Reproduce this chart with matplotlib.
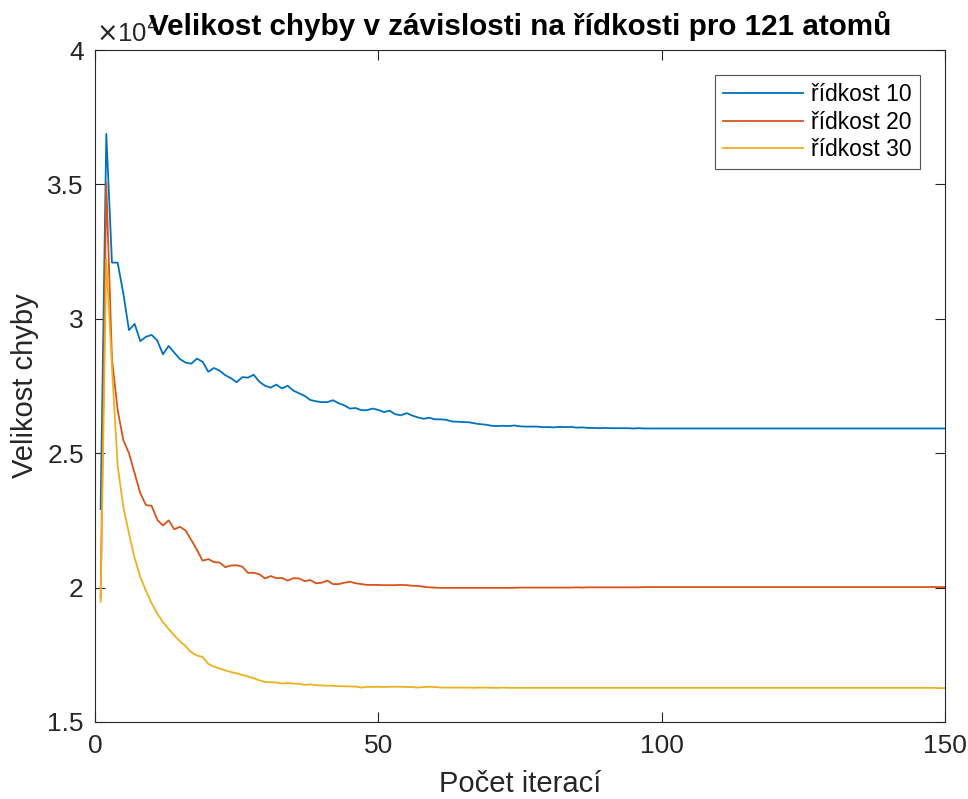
import numpy as np
import matplotlib
matplotlib.use('Agg')
import matplotlib.pyplot as plt
from matplotlib.ticker import FuncFormatter

plt.rcParams['font.family'] = ['Liberation Sans', 'DejaVu Sans']

SCALE = 1e4

# error values in units of 1e4, iteration 1..150
ridkost_10 = [
    2.292, 3.688, 3.209, 3.209, 3.095, 2.958, 2.981, 2.917, 2.933, 2.940,
    2.919, 2.868, 2.899, 2.874, 2.850, 2.837, 2.833, 2.852, 2.840, 2.803,
    2.817, 2.807, 2.790, 2.779, 2.764, 2.783, 2.781, 2.792, 2.766, 2.751,
    2.744, 2.755, 2.741, 2.751, 2.733, 2.723, 2.713, 2.698, 2.693, 2.690,
    2.690, 2.697, 2.686, 2.678, 2.666, 2.668, 2.660, 2.660, 2.666, 2.661,
    2.653, 2.658, 2.645, 2.641, 2.649, 2.640, 2.633, 2.628, 2.632, 2.626,
    2.626, 2.624, 2.618, 2.617, 2.616, 2.615, 2.611, 2.608, 2.606, 2.602,
    2.601, 2.602, 2.601, 2.603, 2.600, 2.599, 2.599, 2.599, 2.597, 2.597,
    2.596, 2.598, 2.597, 2.598, 2.595, 2.596, 2.594, 2.594, 2.593, 2.594,
    2.593, 2.593, 2.593, 2.593, 2.592, 2.593, 2.592, 2.592, 2.592, 2.592,
    2.592, 2.592, 2.592, 2.592, 2.592, 2.592, 2.592, 2.592, 2.592, 2.592,
    2.592, 2.592, 2.592, 2.592, 2.592, 2.592, 2.592, 2.592, 2.592, 2.592,
    2.592, 2.592, 2.592, 2.592, 2.592, 2.592, 2.592, 2.592, 2.592, 2.592,
    2.592, 2.592, 2.592, 2.592, 2.592, 2.592, 2.592, 2.592, 2.592, 2.592,
    2.592, 2.592, 2.592, 2.592, 2.592, 2.592, 2.592, 2.592, 2.592, 2.592,
]
ridkost_20 = [
    1.960, 3.504, 2.850, 2.661, 2.549, 2.500, 2.426, 2.351, 2.307, 2.304,
    2.252, 2.231, 2.250, 2.217, 2.226, 2.212, 2.177, 2.140, 2.100, 2.106,
    2.095, 2.093, 2.076, 2.082, 2.083, 2.078, 2.055, 2.055, 2.050, 2.034,
    2.043, 2.035, 2.036, 2.026, 2.035, 2.034, 2.024, 2.028, 2.016, 2.018,
    2.026, 2.013, 2.013, 2.018, 2.022, 2.016, 2.013, 2.010, 2.010, 2.010,
    2.009, 2.009, 2.009, 2.010, 2.009, 2.007, 2.006, 2.003, 2.001, 2.000,
    1.999, 1.999, 1.999, 1.999, 1.999, 1.999, 1.999, 1.999, 1.999, 1.999,
    1.999, 1.999, 1.999, 1.999, 2.000, 2.000, 2.000, 2.000, 2.000, 2.000,
    2.000, 2.000, 2.000, 2.000, 2.001, 2.000, 2.001, 2.001, 2.001, 2.001,
    2.001, 2.001, 2.001, 2.001, 2.001, 2.001, 2.002, 2.002, 2.002, 2.002,
    2.002, 2.002, 2.002, 2.002, 2.002, 2.002, 2.002, 2.002, 2.002, 2.002,
    2.002, 2.002, 2.002, 2.002, 2.002, 2.002, 2.002, 2.002, 2.002, 2.002,
    2.002, 2.002, 2.002, 2.002, 2.002, 2.002, 2.002, 2.002, 2.002, 2.002,
    2.002, 2.002, 2.002, 2.002, 2.002, 2.002, 2.002, 2.002, 2.002, 2.002,
    2.002, 2.002, 2.002, 2.002, 2.002, 2.002, 2.002, 2.002, 2.002, 2.002,
]
ridkost_30 = [
    1.948, 3.221, 2.820, 2.455, 2.301, 2.202, 2.110, 2.040, 1.988, 1.942,
    1.903, 1.872, 1.846, 1.822, 1.800, 1.782, 1.759, 1.747, 1.742, 1.716,
    1.706, 1.699, 1.692, 1.686, 1.681, 1.675, 1.669, 1.663, 1.655, 1.649,
    1.648, 1.647, 1.643, 1.645, 1.643, 1.642, 1.638, 1.640, 1.637, 1.636,
    1.635, 1.635, 1.633, 1.633, 1.632, 1.632, 1.628, 1.631, 1.630, 1.631,
    1.630, 1.631, 1.631, 1.631, 1.630, 1.630, 1.628, 1.630, 1.631, 1.630,
    1.628, 1.628, 1.628, 1.628, 1.628, 1.628, 1.627, 1.628, 1.628, 1.627,
    1.627, 1.628, 1.627, 1.627, 1.627, 1.627, 1.627, 1.627, 1.627, 1.627,
    1.627, 1.627, 1.627, 1.627, 1.627, 1.627, 1.627, 1.627, 1.627, 1.627,
    1.627, 1.627, 1.627, 1.627, 1.627, 1.627, 1.627, 1.627, 1.627, 1.627,
    1.627, 1.627, 1.627, 1.627, 1.627, 1.627, 1.627, 1.627, 1.627, 1.627,
    1.627, 1.627, 1.627, 1.627, 1.627, 1.627, 1.627, 1.627, 1.627, 1.627,
    1.627, 1.627, 1.627, 1.627, 1.627, 1.627, 1.627, 1.627, 1.627, 1.627,
    1.627, 1.627, 1.627, 1.627, 1.627, 1.627, 1.627, 1.627, 1.627, 1.627,
    1.627, 1.627, 1.627, 1.627, 1.627, 1.627, 1.627, 1.627, 1.626, 1.626,
]
labels = ['řídkost 10', 'řídkost 20', 'řídkost 30']
colors = ['#0072BD', '#D95319', '#EDB120']


def main():
    iterace = np.arange(1, len(ridkost_10) + 1)

    fig = plt.figure(figsize=(9.68, 7.99), dpi=100)
    ax = fig.add_axes([0.0981, 0.0964, 0.8781, 0.841])

    for serie, lab, col in zip([ridkost_10, ridkost_20, ridkost_30], labels, colors):
        ax.plot(iterace, np.array(serie) * SCALE, color=col, lw=1.3, label=lab)

    ax.set_xlim(0, 150)
    ax.set_ylim(1.5e4, 4e4)
    ax.set_xticks([0, 50, 100, 150])
    ax.set_yticks(np.arange(1.5e4, 4.01e4, 0.5e4))
    ax.yaxis.set_major_formatter(FuncFormatter(lambda v, p: '%g' % (v / SCALE)))

    ax.tick_params(direction='in', length=7, width=0.8, colors='#262626',
                   labelsize=19, top=True, right=True)
    ax.tick_params(axis='x', pad=9)
    ax.tick_params(axis='y', pad=8)
    for s in ax.spines.values():
        s.set_color('#262626')
        s.set_linewidth(0.8)

    ax.set_xlabel('Počet iterací', fontsize=21, color='#262626')
    ax.xaxis.set_label_coords(0.5, -0.072)
    ax.set_ylabel('Velikost chyby', fontsize=21, color='#262626')
    ax.yaxis.set_label_coords(-0.066, 0.5)
    ax.set_title('Velikost chyby v závislosti na řídkosti pro 121 atomů',
                 fontsize=21.3, fontweight='bold', pad=11)

    ax.text(0.001, 1.004, r'$\times$10$^4$', transform=ax.transAxes, fontsize=18.5,
            color='#262626', ha='left', va='bottom')

    leg = ax.legend(loc='upper right', bbox_to_anchor=(0.9706, 0.9628),
                    borderaxespad=0, fontsize=16.5, frameon=True, fancybox=False,
                    edgecolor='#262626', handlelength=3.5, handletextpad=0.35,
                    borderpad=0.35, labelspacing=0.2)
    leg.get_frame().set_linewidth(0.8)

    plt.savefig('out.png', dpi=100)


if __name__ == '__main__':
    main()
